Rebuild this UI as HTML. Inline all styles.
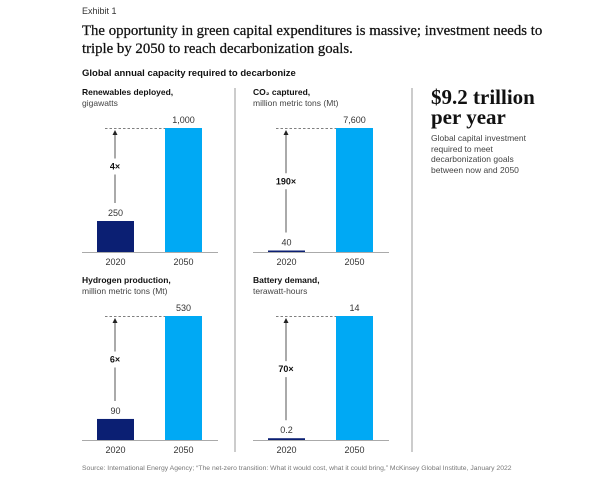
<!DOCTYPE html>
<html><head><meta charset="utf-8"><style>
body{margin:0;background:#fff;width:602px;height:480px;overflow:hidden}
svg{display:block;font-family:"Liberation Sans",sans-serif}
</style></head><body>
<svg id="c" width="602" height="480" viewBox="0 0 602 480">
<text x="82" y="14" font-size="9" fill="#333">Exhibit 1</text>
<text x="82" y="35" font-size="14.8" fill="#111" stroke="#111" stroke-width="0.25" font-family="Liberation Serif,serif">The opportunity in green capital expenditures is massive; investment needs to</text>
<text x="82" y="53" font-size="14.8" fill="#111" stroke="#111" stroke-width="0.25" font-family="Liberation Serif,serif">triple by 2050 to reach decarbonization goals.</text>
<text x="82" y="76" font-size="9.5" font-weight="bold" fill="#111">Global annual capacity required to decarbonize</text>
<line x1="235" y1="88" x2="235" y2="452" stroke="#999" stroke-width="1"/>
<line x1="412" y1="88" x2="412" y2="452" stroke="#999" stroke-width="1"/>
<text x="431" y="104" font-size="21" font-weight="bold" font-family="Liberation Serif,serif" fill="#111">$9.2 trillion</text>
<text x="431" y="124" font-size="21" font-weight="bold" font-family="Liberation Serif,serif" fill="#111">per year</text>
<g font-size="8.5" fill="#444">
<text x="431" y="141">Global capital investment</text>
<text x="431" y="152">required to meet</text>
<text x="431" y="162">decarbonization goals</text>
<text x="431" y="173">between now and 2050</text>
</g>
<text x="82" y="470" font-size="6.8" fill="#777">Source: International Energy Agency; “The net-zero transition: What it would cost, what it could bring,” McKinsey Global Institute, January 2022</text>
<g id="panels"></g>
</svg>
<script>
const titles = ["Renewables deployed,", "CO₂ captured,", "Hydrogen production,", "Battery demand,"];
const units = ["gigawatts", "million metric tons (Mt)", "million metric tons (Mt)", "terawatt-hours"];
const years = ["2020", "2050"];
const values2020 = [250, 40, 90, 0.2];
const values2050 = [1000, 7600, 530, 14];
const labels2020 = ["250", "40", "90", "0.2"];
const labels2050 = ["1,000", "7,600", "530", "14"];
const multipliers = ["4×", "190×", "6×", "70×"];

const NS = "http://www.w3.org/2000/svg";
const root = document.getElementById('panels');
function mk(tag, attrs, parent, txt){const e=document.createElementNS(NS,tag);for(const k in attrs)e.setAttribute(k,attrs[k]);if(txt!==undefined)e.textContent=txt;parent.appendChild(e);return e;}
const origins = [[82,252],[253,252],[82,440],[253,440]];
const plotH = 124;
for(let i=0;i<4;i++){
  const [ox,base]=origins[i];
  const g=mk('g',{},root);
  
  
  const yScale=v=>base-v/values2050[i]*plotH;
  const t=mk('text',{x:ox,y:base-157,'font-size':8.5,'font-weight':'bold',fill:'#111'},g,titles[i]);
  
  
  const u=mk('text',{x:ox,y:base-146,'font-size':8.5,fill:'#444'},g,units[i]);
  
  
  const bx=[ox+15,ox+83], bw=37;
  const y20=yScale(values2020[i]), y50=yScale(values2050[i]);
  const b1=mk('rect',{x:bx[0],y:Math.min(y20,base-1.5),width:bw,height:Math.max(base-y20,1.5),fill:'#0b1f73'},g);
  
  
  const b2=mk('rect',{x:bx[1],y:y50,width:bw,height:base-y50,fill:'#00a9f4'},g);
  
  
  const ax=mk('line',{x1:ox,y1:base+0.5,x2:ox+136,y2:base+0.5,stroke:'#aaa','stroke-width':1},g);
  
  
  for(let k=0;k<2;k++){
    const yl=mk('text',{x:bx[k]+bw/2,y:base+13,'font-size':9,fill:'#333','text-anchor':'middle'},g,years[k]);
    
    
  }
  const l1y=Math.min(y20,base-1.5)-5;
  const l1=mk('text',{x:bx[0]+bw/2,y:l1y,'font-size':9,fill:'#333','text-anchor':'middle'},g,labels2020[i]);
  
  
  const l2=mk('text',{x:bx[1]+bw/2,y:y50-5,'font-size':9,fill:'#333','text-anchor':'middle'},g,labels2050[i]);
  
  
  const dl=mk('line',{x1:ox+23,y1:y50+0.5,x2:bx[1],y2:y50+0.5,stroke:'#555','stroke-width':0.8,'stroke-dasharray':'2.5,2'},g);
  
  
  const axX=ox+33, aBot=l1y-13, aTop=y50+2, mid=(aBot+aTop)/2;
  const a1=mk('line',{x1:axX,y1:aTop+4,x2:axX,y2:mid-8,stroke:'#555','stroke-width':1},g);
  
  
  const a2=mk('line',{x1:axX,y1:mid+8,x2:axX,y2:aBot,stroke:'#555','stroke-width':1},g);
  
  
  const ah=mk('path',{d:`M${axX-2.5},${aTop+5} L${axX},${aTop} L${axX+2.5},${aTop+5}Z`,fill:'#222'},g);
  
  
  const m=mk('text',{x:axX,y:mid+3,'font-size':9,'font-weight':'bold',fill:'#111','text-anchor':'middle'},g,multipliers[i]);
  
  
}
</script>
</body></html>
